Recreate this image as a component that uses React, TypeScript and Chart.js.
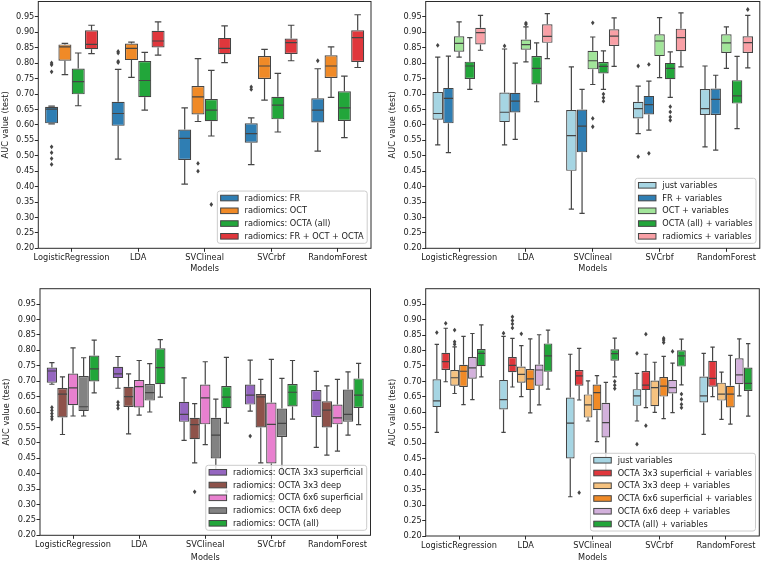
import React, { useEffect, useRef } from "react";
import { Chart, registerables } from "chart.js";

Chart.register(...registerables);

const FONT = '"DejaVu Sans", sans-serif';
const FS = 8.2;
const EDGE = "#454545";
const TEXT = "#1a1a1a";
const SPINE = "#2b2b2b";

// ---------------- data ----------------
const categories = ["LogisticRegression", "LDA", "SVClineal", "SVCrbf", "RandomForest"];
const yTickValues = [0.2, 0.25, 0.3, 0.35, 0.4, 0.45, 0.5, 0.55, 0.6, 0.65, 0.7, 0.75, 0.8, 0.85, 0.9, 0.95];
const xAxisTitle = "Models";
const yAxisTitle = "AUC value (test)";

// each box: [lower whisker, q1, median, q3, upper whisker, outliers]
type Box = [number, number, number, number, number, number[]];

const radFR: Box[] = [
  [0.603, 0.605, 0.651, 0.659, 0.661, [0.801, 0.795, 0.772, 0.529, 0.51, 0.491, 0.472]],
  [0.489, 0.597, 0.637, 0.675, 0.78, [0.838, 0.833, 0.806, 0.802]],
  [0.408, 0.486, 0.556, 0.585, 0.655, []],
  [0.471, 0.542, 0.572, 0.605, 0.623, [0.723, 0.715]],
  [0.515, 0.608, 0.648, 0.686, 0.782, [0.808]],
];
const radOCT: Box[] = [
  [0.763, 0.808, 0.853, 0.861, 0.864, []],
  [0.754, 0.81, 0.848, 0.864, 0.868, []],
  [0.611, 0.634, 0.691, 0.726, 0.815, [0.475, 0.45]],
  [0.68, 0.749, 0.791, 0.823, 0.845, []],
  [0.689, 0.752, 0.791, 0.826, 0.853, []],
];
const radOCTAall: Box[] = [
  [0.662, 0.699, 0.74, 0.783, 0.833, []],
  [0.648, 0.69, 0.744, 0.807, 0.835, []],
  [0.564, 0.612, 0.648, 0.684, 0.777, [0.342]],
  [0.577, 0.618, 0.664, 0.691, 0.767, []],
  [0.559, 0.613, 0.655, 0.709, 0.758, []],
];
const radFROCTOCTA: Box[] = [
  [0.831, 0.845, 0.861, 0.907, 0.923, []],
  [0.826, 0.851, 0.872, 0.905, 0.934, []],
  [0.802, 0.829, 0.848, 0.882, 0.921, []],
  [0.808, 0.83, 0.867, 0.88, 0.923, []],
  [0.786, 0.804, 0.883, 0.907, 0.957, []],
];

const justVars: Box[] = [
  [0.535, 0.617, 0.637, 0.707, 0.82, [0.858]],
  [0.535, 0.609, 0.641, 0.705, 0.846, [0.856]],
  [0.327, 0.451, 0.565, 0.648, 0.788, []],
  [0.572, 0.621, 0.653, 0.675, 0.726, [0.791, 0.497]],
  [0.529, 0.632, 0.653, 0.716, 0.791, []],
];
const frVars: Box[] = [
  [0.51, 0.605, 0.686, 0.72, 0.823, []],
  [0.553, 0.64, 0.677, 0.704, 0.8, []],
  [0.313, 0.511, 0.596, 0.65, 0.715, []],
  [0.583, 0.634, 0.666, 0.694, 0.742, [0.796, 0.508]],
  [0.518, 0.632, 0.683, 0.718, 0.761, []],
];
const octVars: Box[] = [
  [0.82, 0.837, 0.864, 0.887, 0.934, []],
  [0.804, 0.844, 0.86, 0.877, 0.918, [0.93, 0.926]],
  [0.731, 0.78, 0.808, 0.84, 0.885, [0.931, 0.621, 0.594]],
  [0.753, 0.823, 0.872, 0.894, 0.948, []],
  [0.783, 0.833, 0.866, 0.894, 0.918, []],
];
const octaAllVars: Box[] = [
  [0.715, 0.749, 0.791, 0.805, 0.883, []],
  [0.675, 0.731, 0.783, 0.823, 0.866, []],
  [0.715, 0.767, 0.79, 0.804, 0.84, [0.7, 0.688, 0.677]],
  [0.689, 0.748, 0.783, 0.801, 0.837, [0.659, 0.642, 0.626, 0.615]],
  [0.588, 0.669, 0.694, 0.745, 0.822, []],
];
const radiomicsVars: Box[] = [
  [0.842, 0.861, 0.899, 0.915, 0.955, []],
  [0.815, 0.866, 0.887, 0.926, 0.961, []],
  [0.79, 0.856, 0.888, 0.91, 0.947, []],
  [0.788, 0.839, 0.883, 0.912, 0.963, []],
  [0.785, 0.833, 0.867, 0.887, 0.955, [0.974]],
];

const octa3s: Box[] = [
  [0.69, 0.695, 0.733, 0.744, 0.76, [0.615, 0.605, 0.595, 0.585, 0.577]],
  [0.677, 0.71, 0.724, 0.747, 0.78, [0.632, 0.622, 0.612]],
  [0.508, 0.568, 0.592, 0.633, 0.711, []],
  [0.603, 0.624, 0.655, 0.689, 0.768, [0.522]],
  [0.485, 0.584, 0.638, 0.671, 0.732, []],
];
const octa3d: Box[] = [
  [0.527, 0.582, 0.658, 0.678, 0.714, []],
  [0.529, 0.616, 0.65, 0.682, 0.724, []],
  [0.435, 0.512, 0.559, 0.581, 0.627, [0.341]],
  [0.435, 0.55, 0.649, 0.658, 0.706, [0.355]],
  [0.46, 0.55, 0.606, 0.635, 0.685, []],
];
const octa6s: Box[] = [
  [0.587, 0.622, 0.678, 0.725, 0.808, []],
  [0.59, 0.615, 0.682, 0.704, 0.767, []],
  [0.494, 0.56, 0.646, 0.689, 0.763, []],
  [0.309, 0.433, 0.56, 0.631, 0.771, []],
  [0.473, 0.56, 0.581, 0.624, 0.706, []],
];
const octa6d: Box[] = [
  [0.587, 0.603, 0.617, 0.717, 0.776, []],
  [0.6, 0.637, 0.663, 0.691, 0.757, []],
  [0.41, 0.449, 0.525, 0.581, 0.642, []],
  [0.4, 0.519, 0.563, 0.611, 0.709, []],
  [0.525, 0.568, 0.592, 0.673, 0.73, []],
];

const octa3sVars: Box[] = [
  [0.699, 0.737, 0.764, 0.793, 0.872, [0.888]],
  [0.682, 0.73, 0.752, 0.779, 0.839, [0.909, 0.897, 0.886, 0.873]],
  [0.64, 0.686, 0.718, 0.737, 0.807, [0.34]],
  [0.615, 0.672, 0.688, 0.734, 0.788, [0.853, 0.557]],
  [0.651, 0.683, 0.71, 0.767, 0.811, []],
];
const octa3dVars: Box[] = [
  [0.661, 0.686, 0.712, 0.737, 0.812, [0.866, 0.828, 0.82]],
  [0.651, 0.696, 0.723, 0.748, 0.816, [0.854]],
  [0.572, 0.583, 0.624, 0.658, 0.702, []],
  [0.6, 0.62, 0.68, 0.703, 0.762, []],
  [0.577, 0.638, 0.659, 0.696, 0.73, []],
];
const octa6sVars: Box[] = [
  [0.625, 0.682, 0.733, 0.754, 0.846, []],
  [0.598, 0.672, 0.708, 0.74, 0.838, []],
  [0.505, 0.607, 0.664, 0.69, 0.719, []],
  [0.58, 0.651, 0.685, 0.714, 0.781, [0.84, 0.834, 0.826]],
  [0.562, 0.616, 0.659, 0.686, 0.784, []],
];
const octa6dVars: Box[] = [
  [0.641, 0.709, 0.744, 0.779, 0.855, []],
  [0.624, 0.686, 0.737, 0.755, 0.851, []],
  [0.4, 0.519, 0.567, 0.631, 0.697, []],
  [0.599, 0.661, 0.68, 0.705, 0.759, [0.797]],
  [0.653, 0.691, 0.721, 0.775, 0.838, []],
];

// ---------------- styles ----------------
const C = {
  blue: "#2f7eb3",
  orange: "#f08a27",
  green: "#22a63a",
  red: "#e0373c",
  purple: "#9566c0",
  brown: "#8e524a",
  pink: "#e880cf",
  gray: "#828282",
  lightblue: "#a6d5e3",
  lightgreen: "#a2e59a",
  lightpink: "#f9a0a6",
  lightorange: "#f6c27f",
  lightpurple: "#d3b1dc",
};

interface Series { label: string; color: string; boxes: Box[] }
interface PanelDef {
  left: number; top: number; width: number; height: number;
  area: { l: number; t: number; r: number; b: number };
  yTitlePad: number; xTitlePad: number;
  series: Series[];
}

const PANELS: PanelDef[] = [
  {
    left: 0, top: 0, width: 381, height: 281,
    area: { l: 38.3, t: 1.5, r: 371, b: 248.3 }, yTitlePad: 0.9, xTitlePad: 7.1,
    series: [
      { label: "radiomics: FR", color: C.blue, boxes: radFR },
      { label: "radiomics: OCT", color: C.orange, boxes: radOCT },
      { label: "radiomics: OCTA (all)", color: C.green, boxes: radOCTAall },
      { label: "radiomics: FR + OCT + OCTA", color: C.red, boxes: radFROCTOCTA },
    ],
  },
  {
    left: 381, top: 0, width: 381, height: 281,
    area: { l: 44.7, t: 1.5, r: 378.8, b: 248.3 }, yTitlePad: 7.4, xTitlePad: 7.1,
    series: [
      { label: "just variables", color: C.lightblue, boxes: justVars },
      { label: "FR + variables", color: C.blue, boxes: frVars },
      { label: "OCT + variables", color: C.lightgreen, boxes: octVars },
      { label: "OCTA (all) + variables", color: C.green, boxes: octaAllVars },
      { label: "radiomics + variables", color: C.lightpink, boxes: radiomicsVars },
    ],
  },
  {
    left: 0, top: 281, width: 381, height: 281,
    area: { l: 40, t: 7.7, r: 370.5, b: 254.3 }, yTitlePad: 1.8, xTitlePad: -0.9,
    series: [
      { label: "radiomics: OCTA 3x3 superficial", color: C.purple, boxes: octa3s },
      { label: "radiomics: OCTA 3x3 deep", color: C.brown, boxes: octa3d },
      { label: "radiomics: OCTA 6x6 superficial", color: C.pink, boxes: octa6s },
      { label: "radiomics: OCTA 6x6 deep", color: C.gray, boxes: octa6d },
      { label: "radiomics: OCTA (all)", color: C.green, boxes: radOCTAall },
    ],
  },
  {
    left: 381, top: 281, width: 381, height: 281,
    area: { l: 44.7, t: 7.7, r: 378.3, b: 255 }, yTitlePad: 7.1, xTitlePad: -0.9,
    series: [
      { label: "just variables", color: C.lightblue, boxes: justVars },
      { label: "OCTA 3x3 superficial + variables", color: C.red, boxes: octa3sVars },
      { label: "OCTA 3x3 deep + variables", color: C.lightorange, boxes: octa3dVars },
      { label: "OCTA 6x6 superficial + variables", color: C.orange, boxes: octa6sVars },
      { label: "OCTA 6x6 deep + variables", color: C.lightpurple, boxes: octa6dVars },
      { label: "OCTA (all) + variables", color: C.green, boxes: octaAllVars },
    ],
  },
];

// ---------------- plugins ----------------
const boxPartsPlugin = {
  id: "boxParts",
  afterDatasetsDraw(chart: any) {
    const ctx = chart.ctx;
    const ys = chart.scales.y;
    ctx.save();
    chart.data.datasets.forEach((ds: any, i: number) => {
      const meta = chart.getDatasetMeta(i);
      meta.data.forEach((el: any, j: number) => {
        const b: Box = ds.boxes[j];
        if (!b) return;
        const { x, width } = el.getProps(["x", "width"], true);
        const [lo, q1, med, q3, hi, out] = b;
        const pLo = ys.getPixelForValue(lo);
        const pQ1 = ys.getPixelForValue(q1);
        const pMed = ys.getPixelForValue(med);
        const pQ3 = ys.getPixelForValue(q3);
        const pHi = ys.getPixelForValue(hi);
        ctx.strokeStyle = EDGE;
        ctx.lineWidth = 1.2;
        ctx.beginPath();
        ctx.moveTo(x, pQ1); ctx.lineTo(x, pLo);
        ctx.moveTo(x, pQ3); ctx.lineTo(x, pHi);
        ctx.moveTo(x - width / 4, pLo); ctx.lineTo(x + width / 4, pLo);
        ctx.moveTo(x - width / 4, pHi); ctx.lineTo(x + width / 4, pHi);
        ctx.moveTo(x - width / 2 + 0.6, pMed); ctx.lineTo(x + width / 2 - 0.6, pMed);
        ctx.stroke();
        ctx.fillStyle = EDGE;
        out.forEach((v) => {
          const py = ys.getPixelForValue(v);
          ctx.beginPath();
          ctx.moveTo(x, py - 2.4);
          ctx.lineTo(x + 1.8, py);
          ctx.lineTo(x, py + 2.4);
          ctx.lineTo(x - 1.8, py);
          ctx.closePath();
          ctx.fill();
        });
      });
    });
    ctx.restore();
  },
};

const framePlugin = {
  id: "frame",
  afterDraw(chart: any) {
    const { ctx, chartArea: a } = chart;
    ctx.save();
    ctx.strokeStyle = SPINE;
    ctx.lineWidth = 1;
    ctx.strokeRect(a.left, a.top, a.right - a.left, a.bottom - a.top);
    ctx.restore();
  },
};

const legendPlugin = {
  id: "boxLegend",
  afterDraw(chart: any) {
    const { ctx, chartArea: a } = chart;
    const items = chart.data.datasets.map((d: any) => ({ label: d.label, color: d.backgroundColor }));
    ctx.save();
    ctx.font = `${FS}px ${FONT}`;
    const maxW = Math.max(...items.map((it: any) => ctx.measureText(it.label).width));
    const rowH = 12.75;
    const right = a.right - 3.8;
    const bottom = a.bottom - 5;
    const lastC = bottom - 7;
    const n = items.length;
    const firstC = lastC - (n - 1) * rowH;
    const top = firstC - 7;
    const padL = 3.3, patchW = 17.5, gap = 6.4, padR = 3.6;
    const w = padL + patchW + gap + maxW + padR;
    const left = right - w;
    ctx.beginPath();
    if (ctx.roundRect) ctx.roundRect(left, top, w, bottom - top, 2.5);
    else ctx.rect(left, top, w, bottom - top);
    ctx.fillStyle = "rgba(255,255,255,0.8)";
    ctx.fill();
    ctx.strokeStyle = "#cccccc";
    ctx.lineWidth = 1;
    ctx.stroke();
    items.forEach((it: any, i: number) => {
      const cy = firstC + i * rowH;
      const px = left + padL;
      ctx.fillStyle = it.color;
      ctx.fillRect(px, cy - 2.8, patchW, 5.6);
      ctx.strokeStyle = EDGE;
      ctx.lineWidth = 1;
      ctx.strokeRect(px, cy - 2.8, patchW, 5.6);
      ctx.fillStyle = TEXT;
      ctx.textBaseline = "middle";
      ctx.textAlign = "left";
      ctx.fillText(it.label, px + patchW + gap, cy + 0.5);
    });
    ctx.restore();
  },
};

// ---------------- component ----------------
function Panel({ def }: { def: PanelDef }) {
  const ref = useRef<HTMLCanvasElement | null>(null);
  useEffect(() => {
    const canvas = ref.current;
    if (!canvas) return;
    const { area, width, height } = def;
    const chart = new Chart(canvas, {
      type: "bar",
      data: {
        labels: categories,
        datasets: def.series.map((s) => ({
          label: s.label,
          data: s.boxes.map((b) => [b[1], b[3]]),
          boxes: s.boxes,
          backgroundColor: s.color,
          borderColor: EDGE,
          borderWidth: 1.2,
          borderSkipped: false,
          categoryPercentage: 0.8,
          barPercentage: 0.98,
        })) as any,
      },
      options: {
        responsive: false,
        animation: false,
        devicePixelRatio: 1,
        layout: { padding: { left: 0, top: area.t, right: width - area.r, bottom: 0 } },
        plugins: {
          legend: { display: false },
          tooltip: { enabled: false },
        },
        scales: {
          x: {
            type: "category",
            offset: true,
            grid: { offset: false, drawOnChartArea: false, drawTicks: true, tickLength: 3.5, color: SPINE, lineWidth: 1 },
            border: { display: false },
            ticks: {
              autoSkip: false, maxRotation: 0, minRotation: 0, padding: 1.5,
              color: TEXT, font: { family: FONT, size: FS },
            },
            title: {
              display: true, text: xAxisTitle, color: TEXT,
              font: { family: FONT, size: FS }, padding: { top: 0, bottom: def.xTitlePad },
            },
            afterFit: (s: any) => {
              s.height = height - area.b;
              s.paddingLeft = 0; s.paddingRight = 0;
            },
          },
          y: {
            type: "linear",
            min: 0.2,
            max: 1.0,
            afterBuildTicks: (s: any) => {
              s.ticks = yTickValues.map((v) => ({ value: v }));
            },
            grid: { drawOnChartArea: false, drawTicks: true, tickLength: 3.5, color: SPINE, lineWidth: 1 },
            border: { display: false },
            ticks: {
              autoSkip: false, padding: 0.5, color: TEXT, font: { family: FONT, size: FS },
              callback: (v: any) => Number(v).toFixed(2),
            },
            title: {
              display: true, text: yAxisTitle, color: TEXT,
              font: { family: FONT, size: FS }, padding: { top: def.yTitlePad, bottom: 0 },
            },
            afterFit: (s: any) => {
              s.width = area.l;
              s.paddingTop = 0; s.paddingBottom = 0;
            },
          },
        },
      } as any,
      plugins: [boxPartsPlugin, framePlugin, legendPlugin],
    });
    return () => chart.destroy();
  }, [def]);
  return (
    <canvas
      ref={ref}
      width={def.width}
      height={def.height}
      style={{ position: "absolute", left: def.left, top: def.top, width: def.width, height: def.height }}
    />
  );
}

export default function App() {
  return (
    <div style={{ position: "fixed", left: 0, top: 0, width: 762, height: 562, background: "#ffffff" }}>
      {PANELS.map((p, i) => (
        <Panel key={i} def={p} />
      ))}
    </div>
  );
}
